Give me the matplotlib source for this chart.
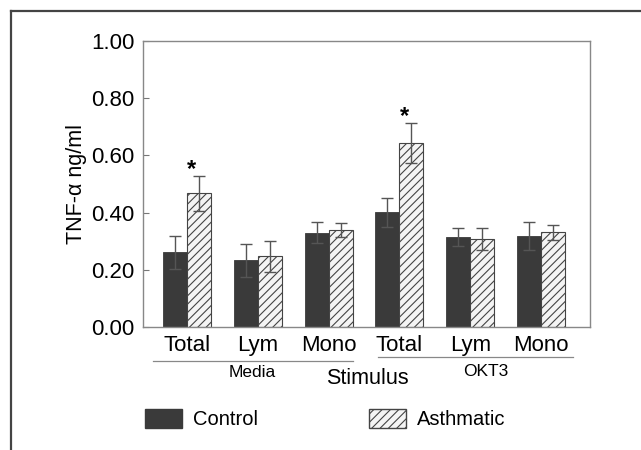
import matplotlib
matplotlib.use("Agg")
import matplotlib.pyplot as plt
import matplotlib.transforms as mtransforms
from matplotlib.patches import Patch
from matplotlib.lines import Line2D
import numpy as np

plt.rcParams['font.family'] = ['Liberation Sans', 'DejaVu Sans']
plt.rcParams['hatch.color'] = '#333333'
plt.rcParams['hatch.linewidth'] = 0.8

# ---- data ----
cell_types = ["Total", "Lym", "Mono", "Total", "Lym", "Mono"]
stimuli = ["Media", "OKT3"]
control_mean = [0.261, 0.233, 0.330, 0.401, 0.315, 0.319]
control_err = [0.058, 0.058, 0.038, 0.051, 0.031, 0.049]
asthmatic_mean = [0.467, 0.247, 0.338, 0.643, 0.307, 0.331]
asthmatic_err = [0.062, 0.053, 0.025, 0.071, 0.038, 0.026]
significant = [True, False, False, True, False, False]
yticks = [0.0, 0.2, 0.4, 0.6, 0.8, 1.0]

fig = plt.figure(figsize=(6.41, 4.5), dpi=100)
ax = fig.add_axes([143/641, 1-327/450, (590-143)/641, (327-41)/450])

x = np.arange(len(cell_types))
w = 0.339
ekw = dict(ecolor='#555555', elinewidth=1.0, capsize=4.3, capthick=1.0)
ax.bar(x - w/2, control_mean, w, color='#3a3a3a', edgecolor='#3a3a3a',
       linewidth=0.6, yerr=control_err, error_kw=ekw, label='Control')
ax.bar(x + w/2, asthmatic_mean, w, color='#f4f4f4', edgecolor='#444444',
       linewidth=0.8, hatch='////', yerr=asthmatic_err, error_kw=ekw,
       label='Asthmatic')

for i, s in enumerate(significant):
    if s:
        ax.text(x[i] + w/2 - 0.1, asthmatic_mean[i] + asthmatic_err[i] - 0.018, '*',
                ha='center', va='bottom', fontsize=17, fontweight='bold')

ax.set_xlim(-0.621, 5.692)
ax.set_ylim(0, 1.0)
ax.set_yticks(yticks)
ax.set_yticklabels([f"{v:.2f}" for v in yticks], fontsize=16)
ax.set_xticks(x)
ax.set_xticklabels(cell_types, fontsize=16)
ax.tick_params(axis='y', direction='in', length=4, width=0.8, color='#777777', pad=6)
ax.tick_params(axis='x', length=0, pad=6)
for sp in ax.spines.values():
    sp.set_color('#888888')
    sp.set_linewidth(1.0)

ax.set_ylabel("TNF-\u03b1 ng/ml", fontsize=15.5, labelpad=3)

# group underlines and labels
trans = mtransforms.blended_transform_factory(ax.transData, ax.transAxes)
ax.plot([-0.484, 2.345], [-0.118, -0.118], transform=trans, color='#888888',
        lw=0.9, clip_on=False)
ax.plot([2.698, 5.452], [-0.105, -0.105], transform=trans, color='#888888',
        lw=0.9, clip_on=False)
ax.text(0.918, -0.160, stimuli[0], transform=trans, ha='center', va='center', fontsize=12.5)
ax.text(4.223, -0.156, stimuli[1], transform=trans, ha='center', va='center', fontsize=12.5)
ax.text(2.542, -0.180, "Stimulus", transform=trans, ha='center', va='center', fontsize=15.5)

# legend
handles = [Patch(facecolor='#3a3a3a', edgecolor='#3a3a3a', label='Control'),
           Patch(facecolor='#f4f4f4', edgecolor='#444444', hatch='////', label='Asthmatic')]
fig.legend(handles=handles, ncol=2, loc='center left',
           bbox_to_anchor=(145/641, 1-419/450), frameon=False, fontsize=14.5,
           handlelength=1.85, handleheight=1.05, handletextpad=0.55,
           columnspacing=5.5, borderpad=0, borderaxespad=0)

# outer border (left and top)
fig.add_artist(Line2D([11/641, 11/641], [0, 1-11/450], color='#444444', lw=1.6))
fig.add_artist(Line2D([11/641, 1], [1-11/450, 1-11/450], color='#444444', lw=1.6))

fig.savefig("out.png", dpi=100)
